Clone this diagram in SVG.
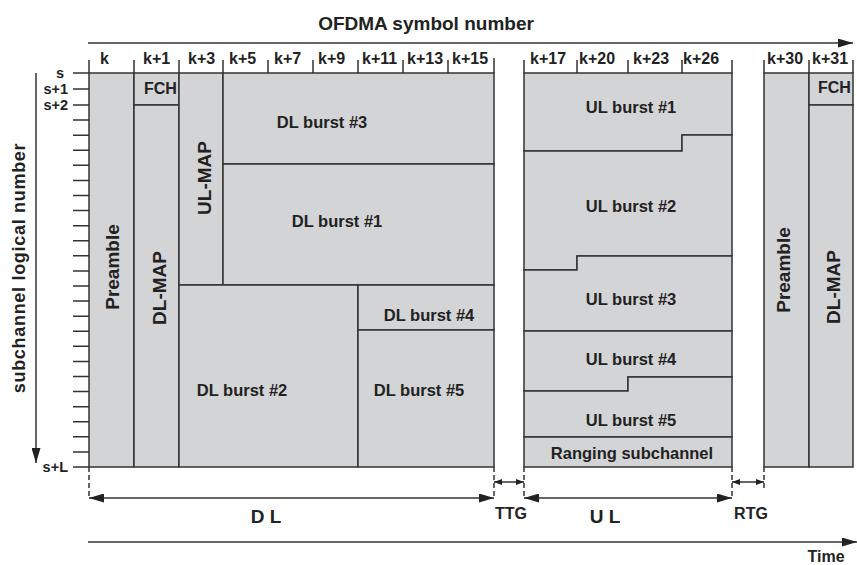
<svg xmlns="http://www.w3.org/2000/svg" width="857" height="565" viewBox="0 0 857 565">
<defs>
<style>
.blk{fill:#d3d4d6;stroke:#333;stroke-width:1.5}
.ln{stroke:#333;stroke-width:1.5;fill:none}
.dash{stroke:#333;stroke-width:1.5;stroke-dasharray:5 3;fill:none}
text{font-family:"Liberation Sans",Arial,sans-serif;fill:#222;font-weight:bold}
.lbl{font-size:16.5px;text-anchor:middle}
.hdr{font-size:16px}
.ax{font-size:14.5px;text-anchor:end}
.rot{font-size:19px;text-anchor:middle}
.big{font-size:19px;text-anchor:middle}
.sm{font-size:16px;text-anchor:middle}
</style>
<marker id="ah" viewBox="0 0 15 9" refX="15" refY="4.5" markerWidth="15" markerHeight="9" markerUnits="userSpaceOnUse" orient="auto-start-reverse">
<path d="M0,0 L15,4.5 L0,9 Z" fill="#222"/>
</marker>
<marker id="as" viewBox="0 0 8 6" refX="8" refY="3" markerWidth="8" markerHeight="6" markerUnits="userSpaceOnUse" orient="auto-start-reverse">
<path d="M0,0 L8,3 L0,6 Z" fill="#222"/>
</marker>
</defs>
<rect width="857" height="565" fill="#fff"/>

<!-- title and axes -->
<g id="axes">
<text x="426" y="30" class="big">OFDMA symbol number</text>
<text transform="translate(25,268) rotate(-90)" style="font-size:18px;letter-spacing:0.7px;text-anchor:middle">subchannel logical number</text>
<g class="ln">
<path d="M89,60V73M134,60V73M179,60V73M223,60V73M268,60V73M313,60V73M358,60V73M403,60V73M448,60V73M494,58V73M524,60V73M577,60V73M628,60V73M682,60V73M732,60V73M764,60V73M809,60V73M853,60V73"/>
<path d="M73,73H89M73,89H89M73,105H89M73,120.1H89M73,135.2H89M73,150.2H89M73,165.3H89M73,180.4H89M73,195.5H89M73,210.6H89M73,225.7H89M73,240.7H89M73,255.8H89M73,270.9H89M73,286H89M73,301.1H89M73,316.2H89M73,331.2H89M73,346.3H89M73,361.4H89M73,376.5H89M73,391.6H89M73,406.7H89M73,421.7H89M73,436.8H89M73,451.9H89M73,467H89"/>
</g>
<g class="hdr">
<text x="100" y="64">k</text>
<text x="143" y="64">k+1</text>
<text x="188" y="64">k+3</text>
<text x="229" y="64">k+5</text>
<text x="274" y="64">k+7</text>
<text x="318" y="64">k+9</text>
<text x="362" y="64">k+11</text>
<text x="407" y="64">k+13</text>
<text x="452" y="64">k+15</text>
<text x="530" y="64">k+17</text>
<text x="579" y="64">k+20</text>
<text x="633" y="64">k+23</text>
<text x="683" y="64">k+26</text>
<text x="767" y="64">k+30</text>
<text x="812" y="64">k+31</text>
</g>
<text x="64" y="78" class="ax">s</text>
<text x="68" y="94" class="ax">s+1</text>
<text x="68" y="110" class="ax">s+2</text>
<text x="68" y="472" class="ax">s+L</text>
</g>

<!-- DL nodes -->
<g id="preamble1"><rect class="blk" x="89" y="73" width="45" height="394"/><text class="rot" transform="translate(119,267) rotate(-90)">Preamble</text></g>
<g id="fch1"><rect class="blk" x="134" y="73" width="45" height="32"/><text x="144" y="94" style="font-size:16px">FCH</text></g>
<g id="dlmap1"><rect class="blk" x="134" y="105" width="45" height="362"/><text class="rot" transform="translate(166,288) rotate(-90)">DL-MAP</text></g>
<g id="ulmap"><rect class="blk" x="179" y="73" width="44" height="212"/><text class="rot" transform="translate(211,178) rotate(-90)">UL-MAP</text></g>
<g id="dlburst3"><rect class="blk" x="223" y="73" width="271" height="91"/><text class="lbl" x="322" y="128">DL burst #3</text></g>
<g id="dlburst1"><rect class="blk" x="223" y="164" width="271" height="121"/><text class="lbl" x="337" y="227">DL burst #1</text></g>
<g id="dlburst2"><rect class="blk" x="179" y="285" width="179" height="182"/><text class="lbl" x="242" y="396">DL burst #2</text></g>
<g id="dlburst4"><rect class="blk" x="358" y="285" width="136" height="45"/><text class="lbl" x="429" y="321">DL burst #4</text></g>
<g id="dlburst5"><rect class="blk" x="358" y="330" width="136" height="137"/><text class="lbl" x="419" y="396">DL burst #5</text></g>

<!-- UL nodes -->
<g id="ulburst1"><path class="blk" d="M524,73H732V135H682V151H524Z"/><text class="lbl" x="631" y="113">UL burst #1</text></g>
<g id="ulburst2"><path class="blk" d="M524,151H682V135H732V256H577V270H524Z"/><text class="lbl" x="631" y="212">UL burst #2</text></g>
<g id="ulburst3"><path class="blk" d="M524,270H577V256H732V331H524Z"/><text class="lbl" x="631" y="305">UL burst #3</text></g>
<g id="ulburst4"><path class="blk" d="M524,331H732V377H628V391H524Z"/><text class="lbl" x="631" y="365">UL burst #4</text></g>
<g id="ulburst5"><path class="blk" d="M524,391H628V377H732V437H524Z"/><text class="lbl" x="631" y="426">UL burst #5</text></g>
<g id="ranging"><rect class="blk" x="524" y="437" width="208" height="30"/><text class="lbl" x="632" y="459">Ranging subchannel</text></g>

<!-- next frame -->
<g id="preamble2"><rect class="blk" x="764" y="73" width="45" height="394"/><text class="rot" transform="translate(790,270) rotate(-90)">Preamble</text></g>
<g id="fch2"><rect class="blk" x="809" y="73" width="44" height="32"/><text x="818" y="93" style="font-size:16px">FCH</text></g>
<g id="dlmap2"><rect class="blk" x="809" y="105" width="44" height="362"/><text class="rot" transform="translate(840,287) rotate(-90)">DL-MAP</text></g>

<!-- connectors -->
<g id="connectors">
<line class="ln" x1="36" y1="73" x2="36" y2="463" marker-end="url(#ah)"/>
<line class="ln" x1="88" y1="43" x2="853" y2="43" marker-end="url(#ah)"/>
<line class="ln" x1="88" y1="542" x2="857" y2="542" marker-end="url(#ah)"/>
<path class="dash" d="M89,467V499M494,467V499M524,467V499M732,467V499M764,467V488"/>
<line class="ln" x1="89" y1="498" x2="494" y2="498" marker-start="url(#ah)" marker-end="url(#ah)"/>
<line class="ln" x1="524" y1="498" x2="732" y2="498" marker-start="url(#ah)" marker-end="url(#ah)"/>
<line class="ln" x1="494" y1="482" x2="524" y2="482" marker-start="url(#as)" marker-end="url(#as)"/>
<line class="ln" x1="732" y1="482" x2="764" y2="482" marker-start="url(#as)" marker-end="url(#as)"/>
</g>
<text x="266" y="523" class="big">D L</text>
<text x="605" y="523" class="big">U L</text>
<text x="511" y="519" class="sm">TTG</text>
<text x="751" y="519" class="sm">RTG</text>
<text x="826" y="562" class="sm">Time</text>
</svg>
